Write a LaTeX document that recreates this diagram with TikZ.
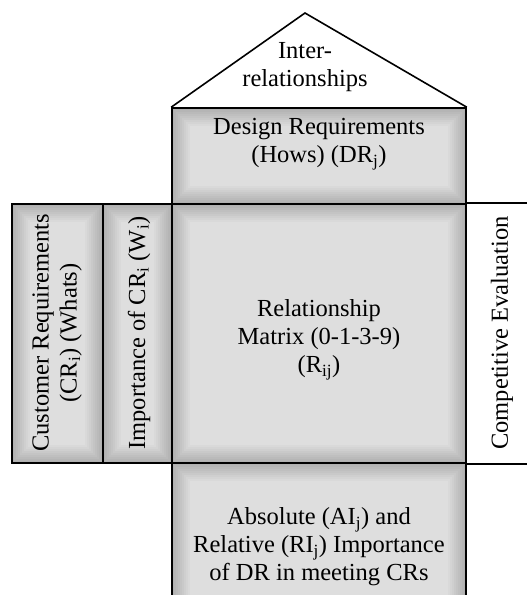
\documentclass[tikz,border=0pt]{standalone}
\usepackage{fontspec}
\setmainfont{Liberation Serif}
\usetikzlibrary{positioning, calc}

\newcommand\hoqfont{\fontsize{24.5}{28}\selectfont}

\tikzset{
  hoqbox/.style={draw=black, line width=1.6pt, fill=gray!62, inner sep=0pt,
    path picture={
      \foreach \inset [evaluate=\inset as \tone using 62-2*\inset] in {2,4,...,18} {
        \fill[gray!\tone] ($(path picture bounding box.south west)+(\inset pt,\inset pt)$)
          rectangle ($(path picture bounding box.north east)-(\inset pt,\inset pt)$);
      }}},
  hoqtext/.style={align=center, font=\hoqfont, inner sep=0pt},
  hoqline/.style={draw=black, line width=1.6pt},
}

\begin{document}
\begin{tikzpicture}[x=1pt, y=-1pt]
    \useasboundingbox[fill=white] (0,0) rectangle (527,595);

    % house of quality blocks
    \node[hoqbox, minimum width=294pt, minimum height=96pt] (hows) at (319,156) {};
    \node[hoqbox, minimum width=294pt, minimum height=259pt] (rel) at (319,333.5) {};
    \node[hoqbox, minimum width=294pt, minimum height=150pt] (imp) at (319,538) {};
    \node[hoqbox, minimum width=91pt, minimum height=259pt] (whats) at (57.5,333.5) {};
    \node[hoqbox, minimum width=69pt, minimum height=259pt] (wts) at (137.5,333.5) {};

    % roof
    \coordinate (apex) at (305,13);
    \draw[hoqline, line join=miter] (hows.north west) -- (apex) -- (hows.north east);

    % competitive evaluation, open to the right
    \coordinate (edge) at (527,0);
    \draw[hoqline] (rel.north east) -- (rel.north east -| edge);
    \draw[hoqline] (rel.south east) -- (rel.south east -| edge);

    % texts
    \node[hoqtext] (roofText) at (305,67) {Inter-\\relationships};
    \node[hoqtext] (howsText) at (319,144) {Design Requirements\\(Hows) (DR\textsubscript{j})};
    \node[hoqtext] (relText) at (319,340) {Relationship\\Matrix (0-1-3-9)\\(R\textsubscript{ij})};
    \node[hoqtext] (impText) at (319,547) {Absolute (AI\textsubscript{j}) and\\Relative (RI\textsubscript{j}) Importance\\of DR in meeting CRs};
    \node[hoqtext, rotate=90] (whatsText) at (57,333) {Customer Requirements\\(CR\textsubscript{i}) (Whats)};
    \node[hoqtext, rotate=90] (wtsText) at (139,333) {Importance of CR\textsubscript{i} (W\textsubscript{i})};
    \node[hoqtext, rotate=90] (compText) at (502,333) {Competitive Evaluation};
\end{tikzpicture}
\end{document}
